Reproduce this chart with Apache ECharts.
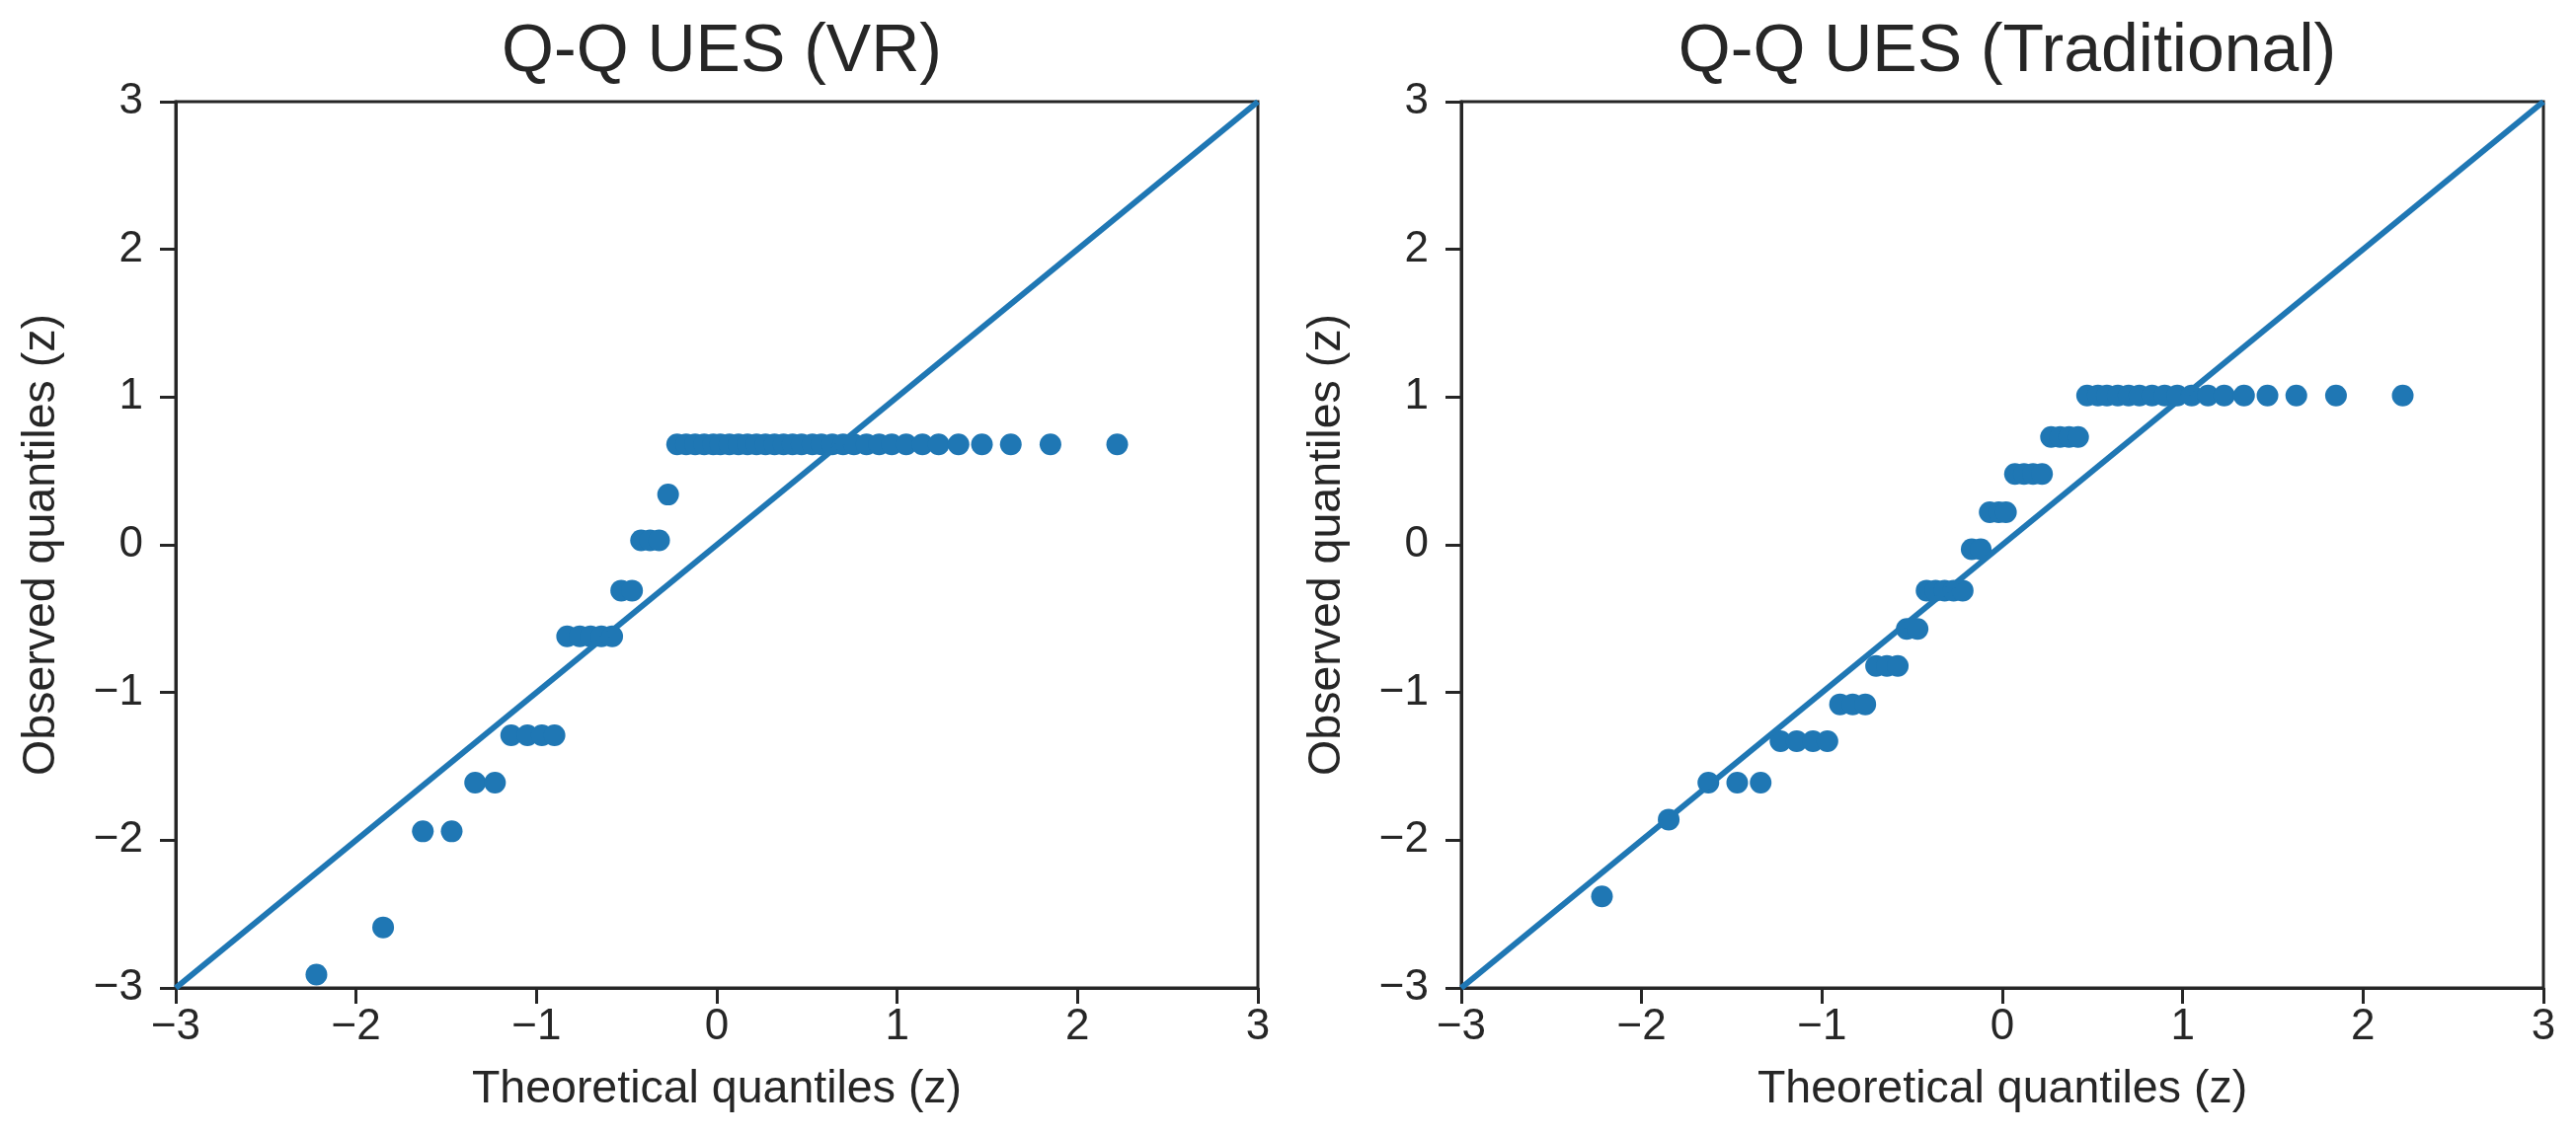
<!DOCTYPE html>
<html>
<head>
<meta charset="UTF-8">
<title>Q-Q UES</title>
<script src="https://cdn.jsdelivr.net/npm/echarts@6/dist/echarts.min.js"></script>
<style>
  html, body { margin: 0; padding: 0; background: #fff; }
  #chart { width: 2609px; height: 1149px; }
</style>
</head>
<body>
<div id="chart"></div>
<script>
// theoretical normal quantiles (n = 52)
var theoretical = [-2.22, -1.85, -1.63, -1.47, -1.34, -1.23, -1.14, -1.05, -0.97, -0.90,
  -0.83, -0.76, -0.70, -0.64, -0.58, -0.53, -0.47, -0.42, -0.37, -0.32,
  -0.27, -0.22, -0.17, -0.12, -0.07, -0.02, 0.02, 0.07, 0.12, 0.17,
  0.22, 0.27, 0.32, 0.37, 0.42, 0.47, 0.53, 0.58, 0.64, 0.70,
  0.76, 0.83, 0.90, 0.97, 1.05, 1.14, 1.23, 1.34, 1.47, 1.63,
  1.85, 2.22];

// observed z scores, VR group
var observedVR = [-2.91, -2.59, -1.94, -1.94, -1.61, -1.61, -1.29, -1.29, -1.29, -1.29,
  -0.62, -0.62, -0.62, -0.62, -0.62, -0.31, -0.31, 0.03, 0.03, 0.03,
  0.34, 0.68, 0.68, 0.68, 0.68, 0.68, 0.68, 0.68, 0.68, 0.68,
  0.68, 0.68, 0.68, 0.68, 0.68, 0.68, 0.68, 0.68, 0.68, 0.68,
  0.68, 0.68, 0.68, 0.68, 0.68, 0.68, 0.68, 0.68, 0.68, 0.68,
  0.68, 0.68];

// observed z scores, Traditional group
var observedTrad = [-2.38, -1.86, -1.61, -1.61, -1.61, -1.33, -1.33, -1.33, -1.33, -1.08,
  -1.08, -1.08, -0.82, -0.82, -0.82, -0.57, -0.57, -0.31, -0.31, -0.31,
  -0.31, -0.31, -0.03, -0.03, 0.22, 0.22, 0.22, 0.48, 0.48, 0.48,
  0.48, 0.73, 0.73, 0.73, 0.73, 1.01, 1.01, 1.01, 1.01, 1.01,
  1.01, 1.01, 1.01, 1.01, 1.01, 1.01, 1.01, 1.01, 1.01, 1.01,
  1.01, 1.01];

var refLine = [[-3, -3], [3, 3]];
var ticks = [-3, -2, -1, 0, 1, 2, 3];
var titles = ['Q-Q UES (VR)', 'Q-Q UES (Traditional)'];

var blue = '#1f77b4';
var ink = '#262626';
var font = '"Liberation Sans", Arial, sans-serif';

function pairs(ys) {
  return theoretical.map(function (x, i) { return [x, ys[i]]; });
}
function minus(v) { return String(v).replace('-', '\u2212'); }

function axis(gridIndex, isX) {
  return {
    type: 'value',
    gridIndex: gridIndex,
    min: ticks[0],
    max: ticks[ticks.length - 1],
    interval: 1,
    name: isX ? 'Theoretical quantiles (z)' : 'Observed quantiles (z)',
    nameLocation: 'middle',
    nameGap: isX ? 80 : 112,
    nameTextStyle: { fontFamily: font, fontSize: 46.5, color: ink },
    axisLine: { show: true, onZero: false, lineStyle: { color: ink, width: 3 } },
    axisTick: { show: true, length: 16, lineStyle: { color: ink, width: 3 } },
    axisLabel: { fontFamily: font, fontSize: 44, color: ink, margin: isX ? 18 : 33, formatter: minus },
    splitLine: { show: false }
  };
}

var grids = [
  { left: 178, top: 103, width: 1096, height: 898 },
  { left: 1480, top: 103, width: 1096, height: 898 }
];

var option = {
  backgroundColor: '#fff',
  animation: false,
  title: titles.map(function (t, i) {
    return {
      text: t,
      left: grids[i].left + grids[i].width / 2,
      top: 14,
      textAlign: 'center',
      textStyle: { fontFamily: font, fontSize: 68, fontWeight: 'normal', color: ink }
    };
  }),
  grid: grids.map(function (g) {
    return Object.assign({ show: true, borderColor: ink, borderWidth: 3, backgroundColor: 'transparent' }, g);
  }),
  xAxis: [axis(0, true), axis(1, true)],
  yAxis: [axis(0, false), axis(1, false)],
  series: [
    { type: 'scatter', xAxisIndex: 0, yAxisIndex: 0, data: pairs(observedVR),
      symbolSize: 22, itemStyle: { color: blue, opacity: 1 } },
    { type: 'line', xAxisIndex: 0, yAxisIndex: 0, data: refLine, showSymbol: false,
      lineStyle: { color: blue, width: 6 } },
    { type: 'scatter', xAxisIndex: 1, yAxisIndex: 1, data: pairs(observedTrad),
      symbolSize: 22, itemStyle: { color: blue, opacity: 1 } },
    { type: 'line', xAxisIndex: 1, yAxisIndex: 1, data: refLine, showSymbol: false,
      lineStyle: { color: blue, width: 6 } }
  ]
};

var myChart = echarts.init(document.getElementById('chart'));
myChart.setOption(option);
</script>
</body>
</html>
